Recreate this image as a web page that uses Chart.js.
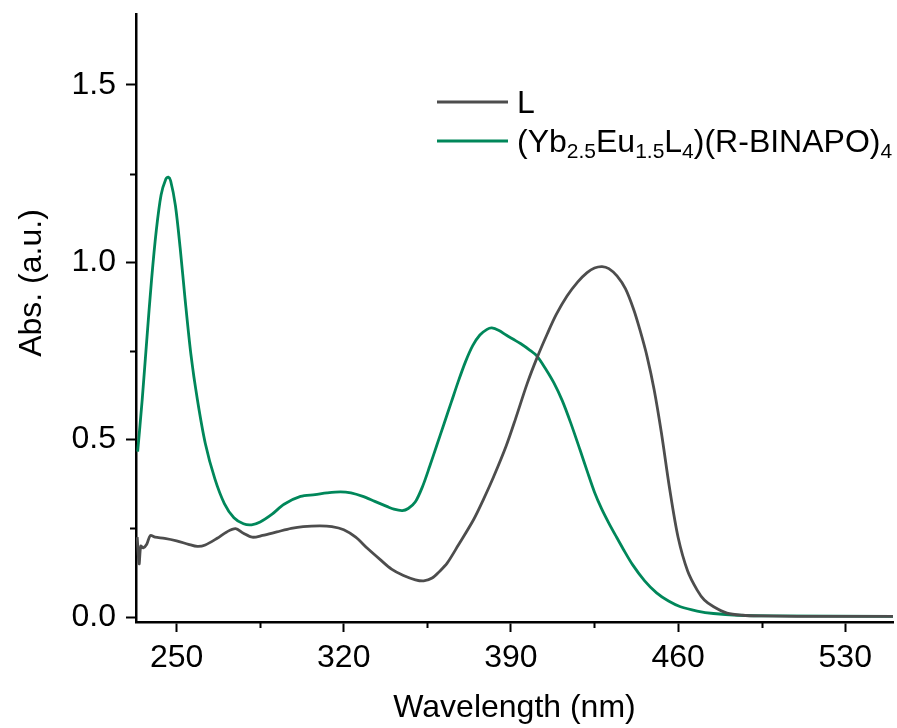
<!DOCTYPE html>
<html>
<head>
<meta charset="utf-8">
<script src="https://cdn.jsdelivr.net/npm/chart.js@4.4.1/dist/chart.umd.min.js"></script>
<style>
  html, body { margin: 0; padding: 0; background: #fff; }
</style>
</head>
<body>
<canvas id="graf1" width="897" height="728"></canvas>
<script>
// spectrum of the free ligand L
var wlL = [233.5, 234.3, 235.0, 236.0, 237.5, 239.0, 241, 245, 250, 255, 258.7, 262, 267, 271, 274.7, 278, 281.7,
  286, 292, 298, 303, 310, 315, 320, 325, 330, 335.4, 340, 345, 350, 353.5, 357, 360, 363.3, 368, 374.4,
  378.6, 382.8, 388, 392, 396.8, 401, 405.2, 409, 413.5, 418, 421.9, 425, 428.2, 431, 434.5, 438, 441.4,
  444, 447, 450, 453, 456.5, 460, 464, 468, 471, 474.9, 480.5, 487, 495, 510, 550];
var absL = [0.225, 0.15, 0.2, 0.195, 0.205, 0.23, 0.225, 0.222, 0.215, 0.205, 0.199, 0.203, 0.222, 0.24, 0.249, 0.236, 0.225,
  0.23, 0.24, 0.25, 0.255, 0.257, 0.255, 0.246, 0.225, 0.193, 0.161, 0.135, 0.117, 0.105, 0.102, 0.11, 0.128, 0.152, 0.203, 0.275,
  0.333, 0.396, 0.482, 0.56, 0.658, 0.732, 0.798, 0.853, 0.905, 0.945, 0.971, 0.984, 0.988, 0.982, 0.961, 0.925, 0.867,
  0.81, 0.735, 0.64, 0.52, 0.36, 0.225, 0.13, 0.076, 0.048, 0.029, 0.011, 0.005, 0.003, 0.002, 0.002];

// spectrum of (Yb2.5Eu1.5L4)(R-BINAPO)4
var wlComplex = [233.7, 235.6, 237.5, 239.5, 241.5, 243.5, 245.5, 246.5, 247.5, 249.5, 251.5, 253.5, 256, 258.7, 262, 266,
  270, 274, 278, 281.4, 285, 290, 295, 301.9, 308, 313, 318.6, 323, 328, 333, 338, 341, 344.5, 347, 350, 353, 356,
  359, 362, 365, 368, 371, 374, 377, 380, 382, 385, 388, 391, 394, 398, 401, 404.5, 408, 411.5,
  415, 419, 422, 425, 428, 431, 434, 437, 441, 446, 451, 456, 461, 468, 474.8, 485, 500, 550];
var absComplex = [0.466, 0.613, 0.78, 0.95, 1.09, 1.19, 1.235, 1.24, 1.23, 1.16, 1.04, 0.9, 0.74, 0.613, 0.49, 0.39,
  0.32, 0.28, 0.263, 0.26, 0.268, 0.29, 0.318, 0.34, 0.345, 0.35, 0.353, 0.35, 0.34, 0.326, 0.312, 0.304, 0.30, 0.306, 0.325, 0.368, 0.425,
  0.485, 0.545, 0.605, 0.665, 0.72, 0.765, 0.795, 0.811, 0.815, 0.808, 0.795, 0.783, 0.771, 0.752, 0.735, 0.70, 0.66, 0.61,
  0.548, 0.47, 0.41, 0.352, 0.305, 0.265, 0.228, 0.192, 0.147, 0.102, 0.068, 0.045, 0.029, 0.017, 0.010, 0.005, 0.003, 0.002];

var xTicks = [250, 285, 320, 355, 390, 425, 460, 495, 530];
var xLabels = [250, 320, 390, 460, 530];
var yTicks = [0, 0.25, 0.5, 0.75, 1.0, 1.25, 1.5];
var yLabels = [0, 0.5, 1.0, 1.5];

var seriesNames = ['L', '(Yb2.5Eu1.5L4)(R-BINAPO)4'];
// legend text split into [text, isSubscript]
var legendParts = [
  [['L', false]],
  [['(Yb', false], ['2.5', true], ['Eu', false], ['1.5', true], ['L', false], ['4', true], [')(R-BINAPO)', false], ['4', true]]
];
var colors = ['#4d4d4d', '#00875a'];

var FONT = '"Liberation Sans", Arial, sans-serif';

function isLabel(list, v) {
  return list.some(function(l) { return Math.abs(l - v) < 1e-6; });
}

var extras = {
  id: 'extras',
  afterDraw: function(chart) {
    var ctx = chart.ctx;
    var xs = chart.scales.x, ys = chart.scales.y, area = chart.chartArea;
    ctx.save();

    // minor ticks (shorter)
    ctx.strokeStyle = '#000';
    ctx.lineWidth = 2;
    ctx.beginPath();
    xTicks.forEach(function(v) {
      if (!isLabel(xLabels, v)) {
        var px = Math.round(xs.getPixelForValue(v)) + 0.5;
        ctx.moveTo(px, area.bottom);
        ctx.lineTo(px, area.bottom + 6);
      }
    });
    yTicks.forEach(function(v) {
      if (!isLabel(yLabels, v)) {
        var py = Math.round(ys.getPixelForValue(v)) + 0.5;
        ctx.moveTo(area.left, py);
        ctx.lineTo(area.left - 6, py);
      }
    });
    ctx.stroke();

    // axis titles
    ctx.fillStyle = '#000';
    ctx.font = '32px ' + FONT;
    ctx.textAlign = 'center';
    ctx.textBaseline = 'alphabetic';
    ctx.fillText('Wavelength (nm)', (area.left + area.right) / 2, 717);
    ctx.save();
    ctx.translate(41, 283);
    ctx.rotate(-Math.PI / 2);
    ctx.fillText('Abs. (a.u.)', 0, 0);
    ctx.restore();

    // legend
    var rows = [102, 141];
    ctx.textAlign = 'left';
    legendParts.forEach(function(parts, i) {
      ctx.strokeStyle = colors[i];
      ctx.lineWidth = 3;
      ctx.beginPath();
      ctx.moveTo(437, rows[i]);
      ctx.lineTo(508, rows[i]);
      ctx.stroke();
      var x = 517;
      parts.forEach(function(p) {
        ctx.font = (p[1] ? '21px ' : '32px ') + FONT;
        ctx.fillText(p[0], x, rows[i] + (p[1] ? 17 : 11));
        x += ctx.measureText(p[0]).width;
      });
    });
    ctx.restore();
  }
};

var chart = new Chart(document.getElementById('graf1'), {
  type: 'line',
  data: {
    datasets: [
      {
        label: seriesNames[0],
        data: wlL.map(function(w, i) { return { x: w, y: absL[i] }; }),
        borderColor: colors[0],
        borderWidth: 2.8,
        pointRadius: 0,
        tension: 0.3
      },
      {
        label: seriesNames[1],
        data: wlComplex.map(function(w, i) { return { x: w, y: absComplex[i] }; }),
        borderColor: colors[1],
        borderWidth: 2.8,
        pointRadius: 0,
        tension: 0.3
      }
    ]
  },
  options: {
    responsive: false,
    animation: false,
    layout: { padding: { top: 14, right: 4, left: 0, bottom: 0 } },
    plugins: { legend: { display: false }, tooltip: { enabled: false } },
    scales: {
      x: {
        type: 'linear',
        min: 233,
        max: 550,
        afterBuildTicks: function(s) { s.ticks = xTicks.map(function(v) { return { value: v }; }); },
        afterFit: function(s) { s.height = 106; s.paddingLeft = 0; s.paddingRight = 0; },
        ticks: {
          autoSkip: false,
          maxRotation: 0,
          padding: 7,
          color: '#000',
          font: { family: FONT, size: 32 },
          callback: function(v) { return isLabel(xLabels, v) ? String(v) : ''; }
        },
        grid: {
          drawOnChartArea: false,
          tickLength: 10,
          tickWidth: 2,
          tickColor: function(c) { return c.tick && isLabel(xLabels, c.tick.value) ? '#000' : 'rgba(0,0,0,0)'; }
        },
        border: { display: true, color: '#000', width: 2.5 }
      },
      y: {
        type: 'linear',
        min: -0.014,
        max: 1.7,
        afterBuildTicks: function(s) { s.ticks = yTicks.map(function(v) { return { value: v }; }); },
        afterFit: function(s) { s.width = 136; s.paddingTop = 0; s.paddingBottom = 0; },
        ticks: {
          autoSkip: false,
          padding: 10,
          color: '#000',
          font: { family: FONT, size: 32 },
          callback: function(v) { return isLabel(yLabels, v) ? v.toFixed(1) : ''; }
        },
        grid: {
          drawOnChartArea: false,
          tickLength: 10,
          tickWidth: 2,
          tickColor: function(c) { return c.tick && isLabel(yLabels, c.tick.value) ? '#000' : 'rgba(0,0,0,0)'; }
        },
        border: { display: true, color: '#000', width: 2.5 }
      }
    }
  },
  plugins: [extras]
});
</script>
</body>
</html>
